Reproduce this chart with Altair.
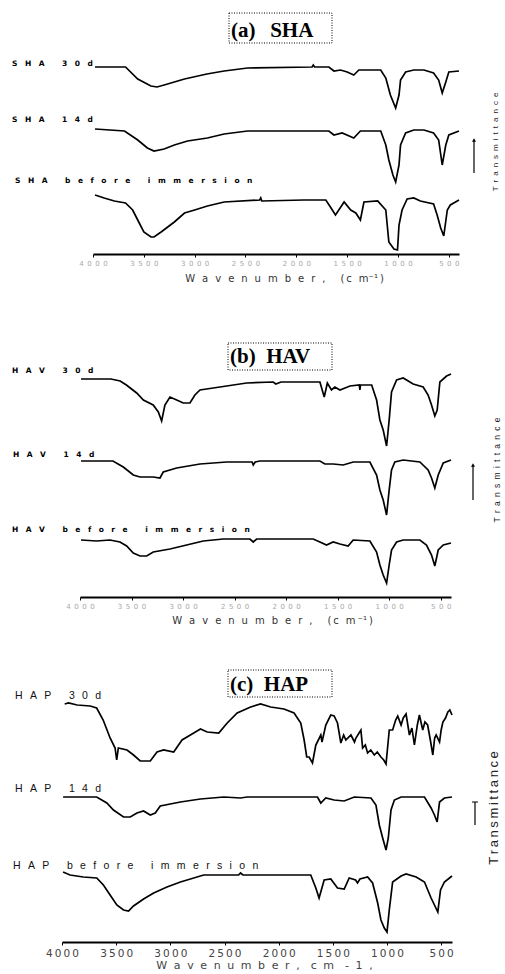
import altair as alt
import pandas as pd

# ---------------- data (arbitrary transmittance units) ----------------
WN_TICKS = [4000, 3500, 3000, 2500, 2000, 1500, 1000, 500]

# (a) SHA
SHA_30D_WN = [3980, 3680, 3560, 3430, 3370, 3300, 3200, 3100, 2880, 2710, 2480, 1845, 1833, 1820, 1680, 1630, 1565, 1500, 1435, 1385, 1170, 1120, 1075, 1023, 990, 975, 925, 845, 745, 650, 600, 565, 530, 500, 400]
SHA_30D_T = [187, 187, 175, 168, 167, 169, 172, 175, 180, 183, 186, 187, 189, 187, 187, 183, 184, 182, 179, 184, 184, 176, 159, 146, 159, 174, 182, 184, 184, 181, 174, 161, 172, 182, 183]
SHA_14D_WN = [3980, 3690, 3560, 3465, 3400, 3300, 3200, 3070, 2875, 2710, 2480, 1680, 1630, 1550, 1480, 1435, 1370, 1170, 1120, 1090, 1050, 1023, 990, 975, 925, 845, 745, 650, 600, 565, 530, 500, 400]
SHA_14D_T = [125, 123, 114, 106, 103, 105, 109, 113, 116, 120, 123, 123, 119, 121, 118, 116, 123, 123, 109, 94, 79, 72, 89, 109, 121, 124, 124, 121, 114, 89, 109, 119, 123]
SHA_0D_WN = [3980, 3890, 3790, 3680, 3610, 3560, 3500, 3430, 3400, 3330, 3200, 3100, 3000, 2875, 2710, 2360, 2350, 2340, 1925, 1710, 1665, 1615, 1530, 1465, 1415, 1370, 1335, 1200, 1120, 1090, 1040, 1005, 990, 960, 910, 845, 780, 650, 615, 580, 550, 515, 485, 400]
SHA_0D_T = [59, 56, 53, 51, 44, 34, 22, 17, 17, 22, 32, 41, 44, 48, 52, 54, 56, 53, 54, 54, 47, 39, 52, 44, 41, 34, 52, 53, 44, 12, 5, 4, 29, 44, 55, 56, 53, 50, 39, 26, 18, 44, 49, 54]

# (b) HAV
HAV_30D_WN = [3990, 3840, 3700, 3610, 3550, 3450, 3385, 3290, 3240, 3208, 3176, 3127, 3062, 2998, 2933, 2885, 2836, 2707, 2577, 2383, 2125, 2100, 2050, 1672, 1630, 1600, 1560, 1527, 1478, 1380, 1290, 1284, 1278, 1170, 1122, 1090, 1058, 1025, 1000, 977, 928, 864, 767, 670, 622, 589, 557, 534, 508, 443, 400]
HAV_30D_T = [218, 218, 218, 216, 212, 204, 197, 192, 185, 176, 192, 200, 197, 194, 194, 202, 207, 209, 211, 214, 215, 213, 215, 215, 200, 214, 207, 210, 207, 211, 212, 207, 212, 212, 197, 177, 167, 151, 177, 205, 217, 219, 213, 210, 202, 192, 181, 187, 215, 221, 223]
HAV_14D_WN = [3990, 3680, 3580, 3483, 3418, 3289, 3224, 3192, 3062, 2836, 2577, 2330, 2319, 2300, 2254, 1672, 1624, 1543, 1446, 1349, 1187, 1122, 1090, 1058, 1025, 1000, 977, 945, 864, 702, 622, 589, 557, 524, 475, 400]
HAV_14D_T = [136, 136, 130, 122, 120, 120, 119, 125, 129, 133, 135, 135, 132, 135, 136, 136, 133, 133, 132, 135, 135, 122, 107, 97, 82, 107, 127, 135, 137, 135, 127, 119, 109, 122, 134, 137]
HAV_0D_WN = [3990, 3840, 3710, 3612, 3547, 3483, 3418, 3353, 3289, 3127, 2965, 2804, 2610, 2351, 2319, 2286, 1737, 1672, 1608, 1543, 1478, 1398, 1349, 1187, 1122, 1090, 1058, 1025, 1000, 977, 928, 864, 702, 638, 589, 557, 524, 475, 400]
HAV_0D_T = [57, 56, 57, 55, 51, 44, 41, 41, 45, 48, 52, 56, 58, 58, 55, 58, 58, 55, 52, 55, 53, 51, 57, 56, 45, 32, 22, 14, 32, 47, 55, 57, 57, 52, 42, 31, 47, 52, 54]

# (c) HAP
HAP_30D_WN = [3975, 3940, 3860, 3740, 3680, 3620, 3556, 3510, 3495, 3480, 3400, 3340, 3278, 3185, 3123, 3062, 2969, 2892, 2815, 2722, 2660, 2553, 2475, 2383, 2259, 2167, 2074, 1951, 1858, 1796, 1765, 1741, 1719, 1688, 1657, 1611, 1600, 1565, 1519, 1488, 1457, 1426, 1400, 1380, 1333, 1300, 1287, 1241, 1225, 1200, 1179, 1150, 1117, 1090, 1056, 1030, 1009, 979, 948, 920, 901, 870, 850, 824, 793, 770, 747, 720, 701, 670, 650, 625, 600, 577, 560, 546, 515, 500, 484, 460, 438, 420, 400]
HAP_30D_T = [238, 239, 237, 236, 234, 222, 204, 194, 182, 194, 192, 187, 181, 181, 190, 192, 190, 202, 207, 213, 210, 209, 219, 229, 235, 238, 235, 233, 229, 219, 202, 185, 185, 179, 197, 207, 200, 217, 227, 226, 219, 199, 207, 202, 207, 200, 204, 212, 194, 197, 189, 192, 187, 190, 185, 182, 178, 212, 212, 222, 226, 217, 224, 228, 207, 214, 197, 217, 227, 212, 220, 217, 202, 187, 204, 207, 200, 212, 220, 224, 230, 232, 227]
HAP_14D_WN = [3990, 3680, 3586, 3525, 3432, 3370, 3308, 3247, 3185, 3139, 3093, 2907, 2722, 2506, 2352, 2290, 1642, 1611, 1565, 1488, 1395, 1302, 1148, 1102, 1071, 1040, 1009, 988, 963, 932, 870, 654, 593, 562, 537, 515, 470, 400]
HAP_14D_T = [145, 145, 139, 132, 125, 125, 129, 131, 127, 129, 136, 140, 143, 145, 144, 145, 145, 139, 144, 142, 141, 145, 144, 137, 117, 104, 92, 104, 132, 142, 145, 145, 134, 127, 120, 140, 144, 145]
HAP_0D_WN = [3990, 3926, 3803, 3679, 3618, 3556, 3494, 3432, 3386, 3340, 3247, 3154, 3031, 2907, 2692, 2370, 2352, 2330, 1704, 1657, 1627, 1580, 1519, 1457, 1395, 1349, 1290, 1272, 1250, 1179, 1133, 1086, 1056, 1025, 1000, 979, 948, 870, 824, 731, 654, 593, 562, 531, 506, 470, 400]
HAP_0D_T = [70, 67, 65, 64, 57, 47, 37, 32, 31, 36, 43, 49, 55, 60, 67, 67, 69, 67, 67, 54, 44, 62, 63, 54, 53, 64, 62, 59, 63, 65, 59, 39, 22, 14, 10, 32, 60, 66, 68, 65, 60, 44, 37, 30, 52, 60, 66]

PANEL_TITLES = ["(a)", "(b)", "(c)"]
SAMPLES = ["SHA", "HAV", "HAP"]
SERIES_NAMES = ["30d", "14d", "before immersion"]

# ---------------- helpers ----------------
EM, EN, THIN, HAIR = "\u2003", "\u2002", "\u2009", "\u200a"
W = 505


def sp(text, gap):
    return gap.join(text)


def one_row(**kw):
    return pd.DataFrame([kw])


def text_layer(text, x, y, **mark):
    return alt.Chart(one_row(label=text)).mark_text(**mark).encode(
        text="label:N", x=alt.value(x), y=alt.value(y))


def box_layer(x1, x2, y1, y2):
    return alt.Chart(one_row(k=0)).mark_rect(
        fillOpacity=0, stroke="black", strokeWidth=1, strokeDash=[1, 1.5]
    ).encode(x=alt.value(x1), x2=alt.value(x2), y=alt.value(y1), y2=alt.value(y2))


def rule_layer(x1, x2, y1, y2, width=1.2):
    return alt.Chart(one_row(k=0)).mark_rule(color="black", strokeWidth=width).encode(
        x=alt.value(x1), x2=alt.value(x2), y=alt.value(y1), y2=alt.value(y2))


def head_layer(x, y):
    return alt.Chart(one_row(k=0)).mark_point(
        shape="triangle-up", filled=True, color="black", opacity=1, size=16
    ).encode(x=alt.value(x), y=alt.value(y))


def spectra_layer(series, height, x_range, axis):
    frames = [pd.DataFrame({"wavenumber": wn, "T": t, "sample": name}) for name, wn, t in series]
    df = pd.concat(frames, ignore_index=True)
    return alt.Chart(df).mark_line(color="black", strokeWidth=1.7).encode(
        x=alt.X("wavenumber:Q", scale=alt.Scale(domain=[4000, 400], range=x_range), axis=axis),
        y=alt.Y("T:Q", scale=alt.Scale(domain=[0, height]), axis=None),
        detail="sample:N",
    )


def small_axis(title_text, title_x, title_y):
    return alt.Axis(
        values=WN_TICKS, format="d",
        labelExpr="join(split(datum.label, ''), '" + EN + "')",
        labelFont="DejaVu Sans", labelFontSize=7, labelColor="#a8a8a8", labelPadding=2,
        labelFlush=False, labelOverlap=False,
        tickSize=3, tickColor="black", tickWidth=1,
        domainColor="black", domainWidth=2, grid=False,
        title=title_text, titleFont="DejaVu Sans", titleFontSize=10, titleFontWeight="normal",
        titleColor="#333", titleX=title_x, titleY=title_y, titleBaseline="middle",
    )


def big_axis(title_text, title_x, title_y):
    return alt.Axis(
        values=WN_TICKS, format="d",
        labelExpr="join(split(datum.label, ''), '" + THIN + "')",
        labelFont="DejaVu Sans", labelFontSize=10.5, labelColor="#444", labelPadding=3,
        labelFlush=False, labelOverlap=False,
        tickSize=3, tickColor="black", tickWidth=1,
        domainColor="black", domainWidth=2, grid=False,
        title=title_text, titleFont="DejaVu Sans", titleFontSize=11, titleFontWeight="normal",
        titleColor="#444", titleX=title_x, titleY=title_y, titleBaseline="middle",
    )


small_lbl = dict(align="left", baseline="alphabetic", font="DejaVu Sans", fontSize=7.5,
                 fontWeight="bold", color="black")
big_lbl = dict(align="left", baseline="alphabetic", font="Liberation Sans", fontSize=10.5,
               color="#111")
title_font = dict(align="left", baseline="alphabetic", font="Liberation Serif", fontSize=21,
                  fontWeight="bold", color="black")


def series_label(sample, name, gap):
    return sp(sample + " " + name, gap)


# ---------------- panel (a) ----------------
HA = 254
a_series = [("30d", SHA_30D_WN, SHA_30D_T), ("14d", SHA_14D_WN, SHA_14D_T),
            ("before", SHA_0D_WN, SHA_0D_T)]
a_title = sp("Wavenumber,", EN + THIN) + EM + EN + "(" + THIN + sp("cm", EN + THIN) + "\u207b\u00b9" + THIN + ")"
pa = alt.layer(
    spectra_layer(a_series, HA, [93, 459], small_axis(a_title, 284, 24)),
    box_layer(229, 332, 13, 43),
    text_layer(PANEL_TITLES[0] + EN + THIN + SAMPLES[0], 231, 37, **title_font),
    text_layer(series_label(SAMPLES[0], SERIES_NAMES[0], EM), 12, 66, **small_lbl),
    text_layer(series_label(SAMPLES[0], SERIES_NAMES[1], EM), 12, 122, **small_lbl),
    text_layer(series_label(SAMPLES[0], SERIES_NAMES[2], EM), 15, 183, **small_lbl),
    text_layer(sp("Transmittance", EN), 496, 142, angle=270, align="center", baseline="middle",
               font="Liberation Sans", fontSize=8, color="#222"),
    rule_layer(474, 474, 141, 173),
    head_layer(474, 140),
).properties(width=W, height=HA)

# ---------------- panel (b) ----------------
TB = 254
HB = 597 - TB
b_series = [("30d", HAV_30D_WN, HAV_30D_T), ("14d", HAV_14D_WN, HAV_14D_T),
            ("before", HAV_0D_WN, HAV_0D_T)]
b_title = sp("Wavenumber,", EN + THIN) + EM + EN + "(" + THIN + sp("cm", EN + THIN) + THIN + "\u207b\u00b9" + THIN + ")"
pb = alt.layer(
    spectra_layer(b_series, HB, [80, 451], small_axis(b_title, 272, 23)),
    box_layer(228, 332, 343 - TB, 370 - TB),
    text_layer(PANEL_TITLES[1] + EN + SAMPLES[1], 230, 363 - TB, **title_font),
    text_layer(series_label(SAMPLES[1], SERIES_NAMES[0], EM), 12, 373 - TB, **small_lbl),
    text_layer(series_label(SAMPLES[1], SERIES_NAMES[1], EM), 13, 457 - TB, **small_lbl),
    text_layer(series_label(SAMPLES[1], SERIES_NAMES[2], EM), 12, 532 - TB, **small_lbl),
    text_layer(sp("Transmittance", EN), 497, 470 - TB, angle=270, align="center", baseline="middle",
               font="Liberation Sans", fontSize=8.5, color="#222"),
    rule_layer(473, 473, 466 - TB, 500 - TB),
    head_layer(473, 465 - TB),
).properties(width=W, height=HB)

# ---------------- panel (c) ----------------
TC = 597
HC = 942 - TC
c_series = [("30d", HAP_30D_WN, HAP_30D_T), ("14d", HAP_14D_WN, HAP_14D_T),
            ("before", HAP_0D_WN, HAP_0D_T)]
c_title = sp("Wavenumber,", EN + HAIR) + EM + sp("cm", EN + HAIR) + EM + sp("-1,", EN + HAIR)
pc = alt.layer(
    spectra_layer(c_series, HC, [62, 452], big_axis(c_title, 264, 23)),
    box_layer(228, 332, 670 - TC, 697 - TC),
    text_layer(PANEL_TITLES[2] + EN + SAMPLES[2], 230, 691 - TC, **title_font),
    text_layer(series_label(SAMPLES[2], SERIES_NAMES[0], EN + THIN), 15, 699 - TC, **big_lbl),
    text_layer(series_label(SAMPLES[2], SERIES_NAMES[1], EN + THIN), 15, 792 - TC, **big_lbl),
    text_layer(series_label(SAMPLES[2], SERIES_NAMES[2], EN + THIN), 13, 869 - TC, **big_lbl),
    text_layer(sp("Transmittance", THIN), 494, 808 - TC, angle=270, align="center", baseline="middle",
               font="Liberation Sans", fontSize=13, color="#222"),
    rule_layer(475, 475, 802 - TC, 825 - TC),
    rule_layer(472, 478, 802 - TC, 802 - TC, width=1),
).properties(width=W, height=HC)

chart = alt.vconcat(pa, pb, pc, spacing=0, bounds="flush", padding=0, background="white").configure_view(
    strokeWidth=0
)

chart.save("out.html", embed_options={"renderer": "svg", "actions": False})
